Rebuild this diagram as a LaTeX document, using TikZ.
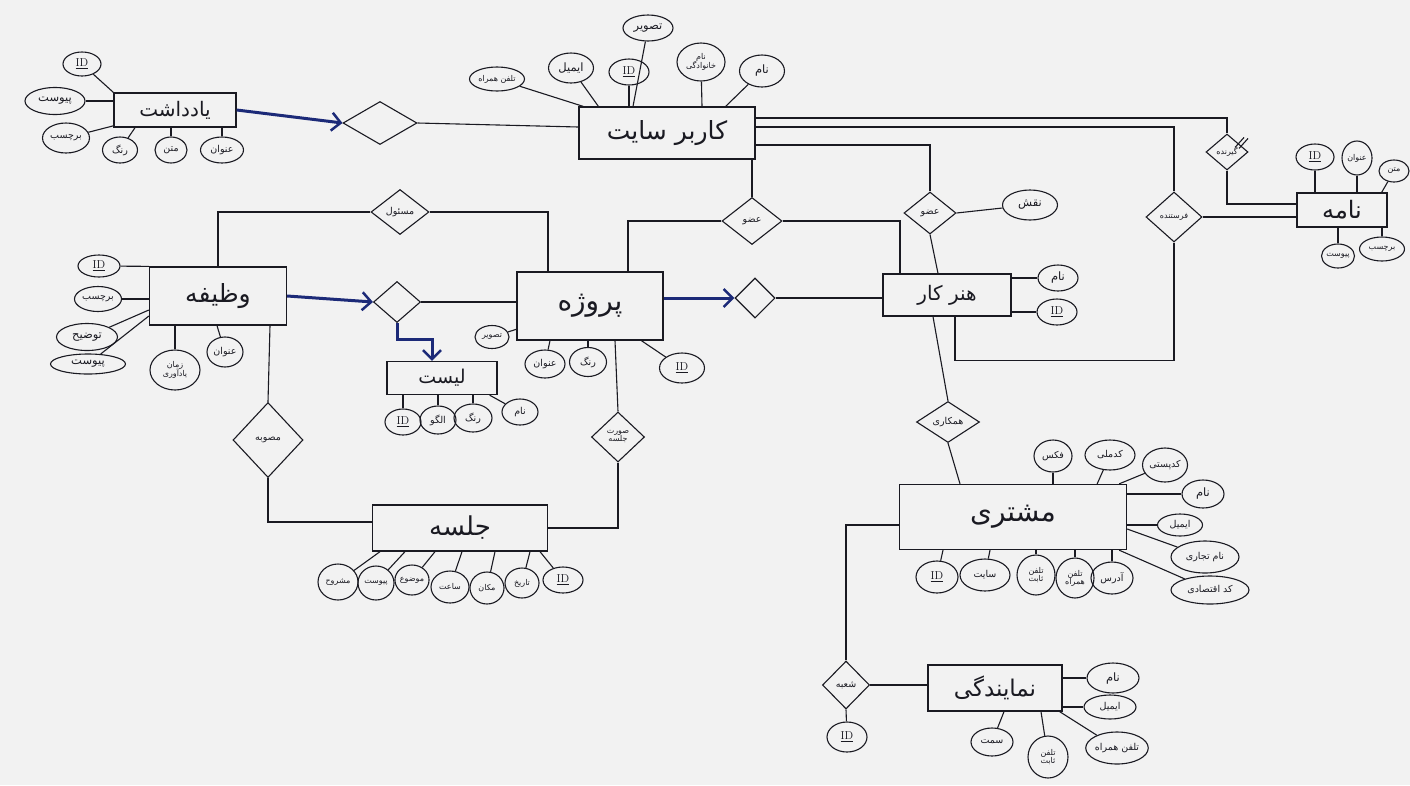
\documentclass[tikz,border=0pt]{standalone}
\usepackage{fontspec}
\usetikzlibrary{shapes.geometric,arrows.meta,calc}
\newfontfamily\arabicfont[Script=Arabic]{DejaVu Sans}
\TeXXeTstate=1
\newcommand\fa[1]{{\arabicfont\beginR #1\endR}}
\definecolor{ink}{HTML}{1A1A22}
\definecolor{navy}{HTML}{1C2A78}
\definecolor{paper}{HTML}{F2F2F2}
\newcommand\keyid{\underline{ID}}
\tikzset{
  ent/.style={draw=ink,line width=1.3pt,rectangle,inner sep=2pt,text=ink,font=\fontsize{20}{22}\selectfont},
  attr/.style={draw=ink,line width=1.1pt,ellipse,inner sep=0pt,minimum width=40pt,minimum height=26pt,text=ink,font=\fontsize{11.5}{12.5}\selectfont,align=center},
  rel/.style={draw=ink,line width=1.1pt,diamond,inner sep=0pt,text=ink,font=\fontsize{9.5}{10.5}\selectfont,align=center},
  ln/.style={draw=ink,line width=1.1pt},
  barrow/.style={draw=navy,line width=3pt,-{Straight Barb[length=9pt,width=18pt,line width=2.5pt]}},
  small/.style={font=\fontsize{9.5}{10.5}\selectfont},
  tiny/.style={font=\fontsize{8}{9}\selectfont}
}
\begin{document}
\begin{tikzpicture}[x=1pt,y=-1pt]
\useasboundingbox (0,0) rectangle (1410,785);
\fill[paper] (0,0) rectangle (1410,785);

% ---------- یادداشت ----------
\node[ent,minimum width=122pt,minimum height=34pt] (yad) at (175,110) {\fa{یادداشت}};
\node[attr,minimum width=38pt,minimum height=24pt] (yID) at (82,64) {\keyid};
\node[attr,minimum width=60pt,minimum height=27pt] (yPey) at (55,101) {\fa{پیوست}};
\node[attr,small,minimum width=47pt,minimum height=30pt] (yBar) at (66,138) {\fa{برچسب}};
\node[attr,small,minimum width=35pt,minimum height=26pt] (yRang) at (120,150) {\fa{رنگ}};
\node[attr,small,minimum width=32pt,minimum height=26pt] (yMatn) at (171,150) {\fa{متن}};
\node[attr,small,minimum width=43pt,minimum height=26pt] (yOnv) at (222,150) {\fa{عنوان}};
\draw[ln] (yad.north west) -- (yID);
\draw[ln] (yad.west |- yPey) -- (yPey);
\draw[ln] (yad) -- (yBar);
\draw[ln] ([xshift=-40pt]yad.south) -- (yRang);
\draw[ln] (yad.south -| yMatn) -- (yMatn);
\draw[ln] (yad.south -| yOnv) -- (yOnv);

\node[rel,minimum width=74pt,minimum height=43pt] (d1) at (380,123) {};
\draw[barrow] (yad.east) -- (d1.west);

% ---------- کاربر سایت ----------
\node[ent,minimum width=176pt,minimum height=52pt,font=\fontsize{25}{27}\selectfont] (user) at (667,133) {\fa{کاربر سایت}};
\node[attr,tiny,minimum width=55pt,minimum height=24pt] (uTel) at (497,79) {\fa{تلفن همراه}};
\node[attr,minimum width=45pt,minimum height=30pt] (uMail) at (571,68) {\fa{ایمیل}};
\node[attr,minimum width=40pt,minimum height=26pt] (uID) at (629,72) {\keyid};
\node[attr,minimum width=50pt,minimum height=26pt] (uPic) at (648,28) {\fa{تصویر}};
\node[attr,tiny,minimum width=48pt,minimum height=38pt] (uFam) at (701,62) {\fa{نام}\\[-1pt]\fa{خانوادگی}};
\node[attr,minimum width=45pt,minimum height=32pt] (uName) at (762,71) {\fa{نام}};
\draw[ln] (user) -- (uTel);
\draw[ln] ([xshift=20pt]user.north west) -- (uMail);
\draw[ln] (user.north -| uID) -- (uID);
\draw[ln] ([xshift=-15pt]user.north -| uPic) -- (uPic);
\draw[ln] ([xshift=35pt]user.north) -- (uFam);
\draw[ln] ([xshift=-30pt]user.north east) -- (uName);
\draw[ln] (d1.east) -- (user.west |- 0,127);

% ---------- نامه ----------
\node[ent,minimum width=90pt,minimum height=34pt,font=\fontsize{24}{26}\selectfont] (nameh) at (1342,210) {\fa{نامه}};
\node[attr,minimum width=38pt,minimum height=26pt] (nID) at (1315,157) {\keyid};
\node[attr,tiny,minimum width=30pt,minimum height=34pt] (nOnv) at (1357,158) {\fa{عنوان}};
\node[attr,tiny,minimum width=30pt,minimum height=22pt] (nMatn) at (1394,171) {\fa{متن}};
\node[attr,tiny,minimum width=32pt,minimum height=24pt] (nPey) at (1338,256) {\fa{پیوست}};
\node[attr,tiny,minimum width=45pt,minimum height=24pt] (nBar) at (1382,249) {\fa{برچسب}};
\draw[ln] (nameh.north -| nID) -- (nID);
\draw[ln] (nameh.north -| nOnv) -- (nOnv);
\draw[ln] ([xshift=-6pt]nameh.north east) -- (nMatn);
\draw[ln] (nameh.south -| nPey) -- (nPey);
\draw[ln] (nameh.south -| nBar) -- (nBar);

\node[rel,tiny,minimum width=42pt,minimum height=36pt] (gir) at (1227,152) {\fa{گیرنده}};
\node[rel,tiny,minimum width=56pt,minimum height=50pt] (fer) at (1174,217) {\fa{فرستنده}};
\draw[ln] (user.east |- 0,118) -| (gir.north);
\draw[ln] (user.east |- 0,127) -| (fer.north);
\draw[ln] (gir.south) |- (nameh.west |- 0,204);
\draw[ln] (fer.east) -- (nameh.west |- fer.east);
\draw[ln] ([shift={(8pt,-14pt)}]gir.north) -- ++(9pt,10pt);
\draw[ln] ([shift={(12pt,-15pt)}]gir.north) -- ++(9pt,10pt);

% ---------- عضو / هنر کار ----------
\node[rel,minimum width=60pt,minimum height=47pt] (ozv1) at (752,221) {\fa{عضو}};
\node[rel,minimum width=52pt,minimum height=42pt] (ozv2) at (930,213) {\fa{عضو}};
\node[attr,minimum width=55pt,minimum height=30pt] (naghsh) at (1030,205) {\fa{نقش}};
\node[ent,minimum width=128pt,minimum height=42pt,font=\fontsize{20}{22}\selectfont] (honar) at (947,295) {\fa{هنر کار}};
\node[attr,minimum width=40pt,minimum height=26pt] (hName) at (1058,278) {\fa{نام}};
\node[attr,minimum width=40pt,minimum height=26pt] (hID) at (1057,312) {\keyid};
\draw[ln] (honar.east |- hName) -- (hName);
\draw[ln] (honar.east |- hID) -- (hID);
\draw[ln] (user.south -| ozv1.north) -- (ozv1.north);
\draw[ln] (user.east |- 0,145) -| (ozv2.north);
\draw[ln] (ozv2.south) -- ([xshift=-9pt]honar.north);
\draw[ln] (ozv2.east) -- (naghsh);

% ---------- وظیفه ----------
\node[ent,minimum width=137pt,minimum height=58pt,font=\fontsize{25}{27}\selectfont] (vaz) at (218,296) {\fa{وظیفه}};
\node[attr,minimum width=42pt,minimum height=22pt] (vID) at (99,266) {\keyid};
\node[attr,small,minimum width=47pt,minimum height=25pt] (vBar) at (98,299) {\fa{برچسب}};
\node[attr,minimum width=61pt,minimum height=27pt] (vToz) at (87,337) {\fa{توضیح}};
\node[attr,minimum width=75pt,minimum height=20pt] (vPey) at (88,364) {\fa{پیوست}};
\node[attr,tiny,minimum width=50pt,minimum height=40pt] (vZaman) at (175,370) {\fa{زمان}\\[-1pt]\fa{یادآوری}};
\node[attr,small,minimum width=36pt,minimum height=30pt] (vOnv) at (225,352) {\fa{عنوان}};
\draw[ln] (vaz.north west) -- (vID);
\draw[ln] (vaz.west |- vBar) -- (vBar);
\draw[ln] ([yshift=-14pt]vaz.west) -- (vToz);
\draw[ln] ([yshift=-20pt]vaz.west) -- (vPey);
\draw[ln] (vaz.south -| vZaman) -- (vZaman);
\draw[ln] ([xshift=-8pt]vaz.south -| vOnv) -- (vOnv);

\node[rel,minimum width=58pt,minimum height=45pt] (mas) at (400,212) {\fa{مسئول}};
\node[rel,minimum width=47pt,minimum height=41pt] (d2) at (397,302) {};
\draw[barrow] (vaz.east) -- (d2.west);

% ---------- پروژه ----------
\node[ent,minimum width=146pt,minimum height=68pt,font=\fontsize{28}{30}\selectfont] (proj) at (590,306) {\fa{پروژه}};
\node[attr,tiny,minimum width=34pt,minimum height=23pt] (pPic) at (492,337) {\fa{تصویر}};
\node[attr,small,minimum width=40pt,minimum height=28pt] (pOnv) at (545,364) {\fa{عنوان}};
\node[attr,small,minimum width=37pt,minimum height=29pt] (pRang) at (588,362) {\fa{رنگ}};
\node[attr,minimum width=45pt,minimum height=30pt] (pID) at (682,368) {\keyid};
\draw[ln] (proj) -- (pPic);
\draw[ln] ([xshift=5pt]proj.south -| pOnv) -- (pOnv);
\draw[ln] (proj.south -| pRang) -- (pRang);
\draw[ln] (proj) -- (pID);
\draw[ln] (mas.west) -| (vaz.north);
\draw[ln] (mas.east) -| ([xshift=-42pt]proj.north);
\draw[ln] (ozv1.west) -| ([xshift=38pt]proj.north);
\draw[ln] (ozv1.east) -| ([xshift=-47pt]honar.north);
\draw[ln] (d2.east) -- (proj.west |- d2.east);

\node[rel,minimum width=40pt,minimum height=40pt] (d3) at (755,298) {};
\draw[barrow] (proj.east |- d3.west) -- (d3.west);
\draw[ln] (d3.east) -- (honar.west |- d3.east);

% ---------- لیست ----------
\node[ent,minimum width=110pt,minimum height=33pt,font=\fontsize{19}{21}\selectfont] (list) at (442,378) {\fa{لیست}};
\node[attr,minimum width=36pt,minimum height=26pt] (lID) at (403,422) {\keyid};
\node[attr,small,minimum width=36pt,minimum height=28pt] (lOlgu) at (438,420) {\fa{الگو}};
\node[attr,small,minimum width=38pt,minimum height=28pt] (lRang) at (473,418) {\fa{رنگ}};
\node[attr,small,minimum width=36pt,minimum height=26pt] (lName) at (520,412) {\fa{نام}};
\draw[ln] (list.south -| lID) -- (lID);
\draw[ln] (list.south -| lOlgu) -- (lOlgu);
\draw[ln] (list.south -| lRang) -- (lRang);
\draw[ln] ([xshift=-8pt]list.south east) -- (lName);
\draw[barrow] (d2.south) -- ++(0,16) -| ([xshift=-10pt]list.north);

% ---------- جلسه ----------
\node[rel,minimum width=70pt,minimum height=75pt] (mosav) at (268,440) {\fa{مصوبه}};
\node[rel,tiny,minimum width=53pt,minimum height=50pt] (sorat) at (618,437) {\fa{صورت}\\[-1pt]\fa{جلسه}};
\node[ent,minimum width=175pt,minimum height=46pt,font=\fontsize{26}{28}\selectfont] (jal) at (460,528) {\fa{جلسه}};
\node[attr,minimum width=40pt,minimum height=26pt] (jID) at (563,580) {\keyid};
\node[attr,tiny,minimum width=34pt,minimum height=30pt] (jTar) at (522,583) {\fa{تاریخ}};
\node[attr,tiny,minimum width=34pt,minimum height=32pt] (jMak) at (487,588) {\fa{مکان}};
\node[attr,tiny,minimum width=38pt,minimum height=32pt] (jSaat) at (450,587) {\fa{ساعت}};
\node[attr,tiny,minimum width=34pt,minimum height=30pt] (jMoz) at (412,580) {\fa{موضوع}};
\node[attr,tiny,minimum width=36pt,minimum height=34pt] (jPey) at (376,583) {\fa{پیوست}};
\node[attr,tiny,minimum width=40pt,minimum height=36pt] (jMash) at (338,582) {\fa{مشروح}};
\draw[ln] ([xshift=80pt]jal.south) -- (jID);
\draw[ln] ([xshift=70pt]jal.south) -- (jTar);
\draw[ln] ([xshift=35pt]jal.south) -- (jMak);
\draw[ln] ([xshift=2pt]jal.south) -- (jSaat);
\draw[ln] ([xshift=-25pt]jal.south) -- (jMoz);
\draw[ln] ([xshift=-55pt]jal.south) -- (jPey);
\draw[ln] ([xshift=-80pt]jal.south) -- (jMash);
\draw[ln] ([xshift=52pt]vaz.south) -- (mosav.north);
\draw[ln] (mosav.south) |- ([yshift=6pt]jal.west);
\draw[ln] ([xshift=25pt]proj.south) -- (sorat.north);
\draw[ln] (sorat.south) |- (jal.east);

% ---------- مشتری ----------
\node[rel,minimum width=63pt,minimum height=41pt] (hamk) at (948,422) {\fa{همکاری}};
\node[ent,minimum width=227pt,minimum height=65pt,font=\fontsize{28}{30}\selectfont] (mosh) at (1013,517) {\fa{مشتری}};
\node[attr,small,minimum width=38pt,minimum height=32pt] (mFax) at (1053,456) {\fa{فکس}};
\node[attr,small,minimum width=50pt,minimum height=30pt] (mMelli) at (1110,455) {\fa{کدملی}};
\node[attr,small,minimum width=45pt,minimum height=34pt] (mPosti) at (1165,465) {\fa{کدپستی}};
\node[attr,minimum width=42pt,minimum height=28pt] (mName) at (1203,494) {\fa{نام}};
\node[attr,small,minimum width=45pt,minimum height=22pt] (mMail) at (1180,525) {\fa{ایمیل}};
\node[attr,small,minimum width=68pt,minimum height=32pt] (mTej) at (1205,557) {\fa{نام تجاری}};
\node[attr,small,minimum width=78pt,minimum height=28pt] (mEqt) at (1210,590) {\fa{کد اقتصادی}};
\node[attr,small,minimum width=42pt,minimum height=32pt] (mAdr) at (1112,578) {\fa{آدرس}};
\node[attr,tiny,minimum width=38pt,minimum height=40pt] (mTelH) at (1075,578) {\fa{تلفن}\\[-1pt]\fa{همراه}};
\node[attr,tiny,minimum width=38pt,minimum height=40pt] (mTelS) at (1036,575) {\fa{تلفن}\\[-1pt]\fa{ثابت}};
\node[attr,small,minimum width=50pt,minimum height=32pt] (mSite) at (985,575) {\fa{سایت}};
\node[attr,minimum width=42pt,minimum height=32pt] (mID) at (937,577) {\keyid};
\draw[ln] (mosh.north -| mFax) -- (mFax);
\draw[ln] ([xshift=-30pt]mosh.north east) -- (mMelli);
\draw[ln] ([xshift=-8pt]mosh.north east) -- (mPosti);
\draw[ln] (mosh.east |- mName) -- (mName);
\draw[ln] (mosh.east |- mMail) -- (mMail);
\draw[ln] ([yshift=-12pt]mosh.east) -- (mTej);
\draw[ln] ([xshift=-8pt]mosh.south east) -- (mEqt);
\draw[ln] (mosh.south -| mAdr) -- (mAdr);
\draw[ln] (mosh.south -| mTelH) -- (mTelH);
\draw[ln] (mosh.south -| mTelS) -- (mTelS);
\draw[ln] ([xshift=5pt]mosh.south -| mSite) -- (mSite);
\draw[ln] ([xshift=6pt]mosh.south -| mID) -- (mID);
\draw[ln] ([xshift=-14pt]honar.south) -- (hamk.north);
\draw[ln] (hamk.south) -- ([xshift=-53pt]mosh.north);
\draw[ln] ([xshift=8pt]honar.south) -- ++(0,44) -| (fer.south);

% ---------- نمایندگی ----------
\node[rel,minimum width=47pt,minimum height=48pt] (shobe) at (846,685) {\fa{شعبه}};
\node[attr,minimum width=40pt,minimum height=30pt] (sID) at (847,737) {\keyid};
\node[ent,minimum width=134pt,minimum height=46pt,font=\fontsize{23}{25}\selectfont] (nam) at (995,688) {\fa{نمایندگی}};
\node[attr,minimum width=52pt,minimum height=30pt] (nmName) at (1113,678) {\fa{نام}};
\node[attr,small,minimum width=52pt,minimum height=24pt] (nmMail) at (1110,707) {\fa{ایمیل}};
\node[attr,small,minimum width=62pt,minimum height=32pt] (nmTel) at (1117,748) {\fa{تلفن همراه}};
\node[attr,tiny,minimum width=40pt,minimum height=42pt] (nmSabet) at (1048,757) {\fa{تلفن}\\[-1pt]\fa{ثابت}};
\node[attr,small,minimum width=42pt,minimum height=28pt] (nmSemat) at (992,742) {\fa{سمت}};
\draw[ln] (nam.east |- nmName) -- (nmName);
\draw[ln] (nam.east |- nmMail) -- (nmMail);
\draw[ln] ([xshift=-3pt]nam.south east) -- (nmTel);
\draw[ln] ([xshift=-7pt]nam.south -| nmSabet) -- (nmSabet);
\draw[ln] ([xshift=12pt]nam.south -| nmSemat) -- (nmSemat);
\draw[ln] (mosh.west |- 0,525) -| (shobe.north);
\draw[ln] (shobe.east) -- (nam.west |- shobe.east);
\draw[ln] (shobe.south) -- (sID);
\end{tikzpicture}
\end{document}
